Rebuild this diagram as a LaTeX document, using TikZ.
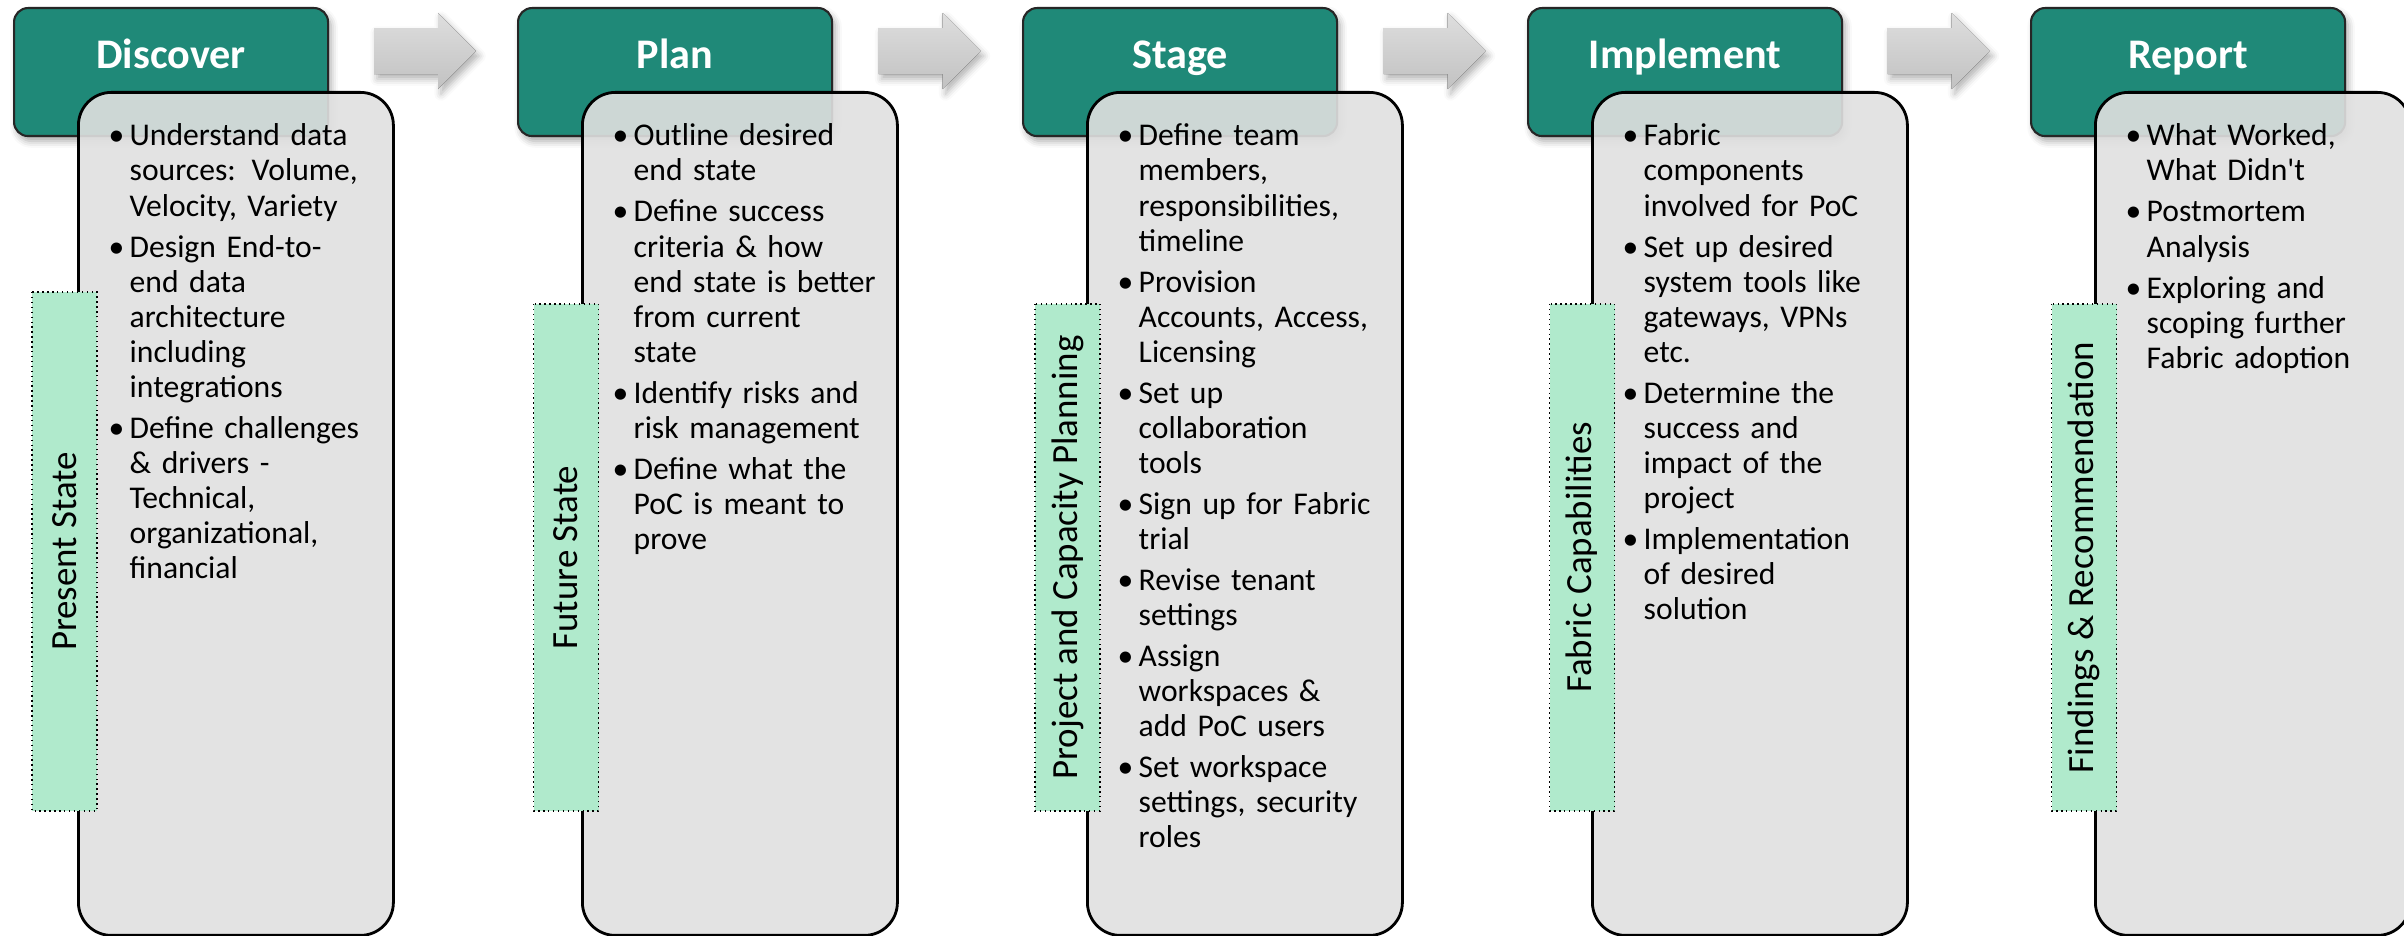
\documentclass[tikz,border=0pt]{standalone}
\usepackage{fontspec}
\setmainfont{Carlito}
\usetikzlibrary{calc,shadows.blur}

\definecolor{phaseteal}{RGB}{31,137,120}
\definecolor{cardgray}{RGB}{224,224,224}
\definecolor{tabgreen}{RGB}{176,234,204}

% one bullet point, continuation lines hang under the text
\newcommand\bitem[1]{{\let\\\newline\hangindent=0.21cm\hangafter=1\noindent\makebox[0.21cm][l]{\textbullet}#1\par}\vspace{0.06cm}}

\begin{document}
\begin{tikzpicture}[
  phase/.style={draw=black!85, line width=0.6pt, fill=phaseteal, rounded corners=0.14cm,
    minimum width=3.14cm, inner sep=0pt, text height=0.6cm, text depth=0.68cm,
    text=white, font=\fontsize{12}{14}\selectfont\bfseries, anchor=north west,
    blur shadow={shadow xshift=0.03cm, shadow yshift=-0.05cm, shadow opacity=35}},
  card/.style={draw=black, line width=0.8pt, fill=cardgray, fill opacity=0.9,
    rounded corners=0.33cm, minimum width=3.15cm, minimum height=8.43cm, anchor=north west},
  points/.style={anchor=base west, text width=2.75cm, align=left, inner sep=0pt,
    font=\fontsize{9}{9.96}\selectfont},
  tab/.style={draw=black, densely dotted, line width=0.4pt, fill=tabgreen, rotate=90,
    minimum width=5.07cm, minimum height=0.65cm, inner sep=0pt, font=\fontsize{10.5}{12}\selectfont},
  blockarrow/.style={top color=black!13, bottom color=black!24,
    blur shadow={shadow xshift=0.03cm, shadow yshift=-0.05cm, shadow opacity=30}}
]
\clip (0,0) rectangle (24.04,-9.36);

% phase headers
\node[phase] (discover) at (0.13,-0.07) {Discover};
\node[phase] (plan) at (5.17,-0.07) {Plan};
\node[phase] (stage) at (10.22,-0.07) {Stage};
\node[phase] (implement) at (15.27,-0.07) {Implement};
\node[phase] (report) at (20.30,-0.07) {Report};

% block arrows between the headers
\fill[blockarrow, shift={($(discover.east)!0.5!(plan.west)+(0.02,0.21)$)}] (-0.51,0.23) -- (0.13,0.23) -- (0.13,0.38) -- (0.51,0) -- (0.13,-0.38) -- (0.13,-0.23) -- (-0.51,-0.23) -- cycle;
\fill[blockarrow, shift={($(plan.east)!0.5!(stage.west)+(0.02,0.21)$)}] (-0.51,0.23) -- (0.13,0.23) -- (0.13,0.38) -- (0.51,0) -- (0.13,-0.38) -- (0.13,-0.23) -- (-0.51,-0.23) -- cycle;
\fill[blockarrow, shift={($(stage.east)!0.5!(implement.west)+(0.02,0.21)$)}] (-0.51,0.23) -- (0.13,0.23) -- (0.13,0.38) -- (0.51,0) -- (0.13,-0.38) -- (0.13,-0.23) -- (-0.51,-0.23) -- cycle;
\fill[blockarrow, shift={($(implement.east)!0.5!(report.west)+(0.02,0.21)$)}] (-0.51,0.23) -- (0.13,0.23) -- (0.13,0.38) -- (0.51,0) -- (0.13,-0.38) -- (0.13,-0.23) -- (-0.51,-0.23) -- cycle;

% cards under each header
\node[card] (discover-card) at ($(discover.north west)+(0.64,-0.84)$) {};
\node[card] (plan-card) at ($(plan.north west)+(0.64,-0.84)$) {};
\node[card] (stage-card) at ($(stage.north west)+(0.64,-0.84)$) {};
\node[card] (implement-card) at ($(implement.north west)+(0.64,-0.84)$) {};
\node[card] (report-card) at ($(report.north west)+(0.64,-0.84)$) {};

% bullet points
\node[points] (discover-points) at ($(discover-card.north west)+(0.31,-0.55)$) {%
  \bitem{Understand data\\ sources: Volume,\\ Velocity, Variety}
  \bitem{Design End-to-\\ end data\\ architecture\\ including\\ integrations}
  \bitem{Define challenges\\ \& drivers -\\ Technical,\\ organizational,\\ financial}};
\node[points] (plan-points) at ($(plan-card.north west)+(0.31,-0.55)$) {%
  \bitem{Outline desired\\ end state}
  \bitem{Define success\\ criteria \& how\\ end state is better\\ from current\\ state}
  \bitem{Identify risks and\\ risk management}
  \bitem{Define what the\\ PoC is meant to\\ prove}};
\node[points] (stage-points) at ($(stage-card.north west)+(0.31,-0.55)$) {%
  \bitem{Define team\\ members,\\ responsibilities,\\ timeline}
  \bitem{Provision\\ Accounts, Access,\\ Licensing}
  \bitem{Set up\\ collaboration\\ tools}
  \bitem{Sign up for Fabric\\ trial}
  \bitem{Revise tenant\\ settings}
  \bitem{Assign\\ workspaces \&\\ add PoC users}
  \bitem{Set workspace\\ settings, security\\ roles}};
\node[points] (implement-points) at ($(implement-card.north west)+(0.31,-0.55)$) {%
  \bitem{Fabric\\ components\\ involved for PoC}
  \bitem{Set up desired\\ system tools like\\ gateways, VPNs\\ etc.}
  \bitem{Determine the\\ success and\\ impact of the\\ project}
  \bitem{Implementation\\ of desired\\ solution}};
\node[points] (report-points) at ($(report-card.north west)+(0.31,-0.55)$) {%
  \bitem{What Worked,\\ What Didn\textquotesingle t}
  \bitem{Postmortem\\ Analysis}
  \bitem{Exploring and\\ scoping further\\ Fabric adoption}};

% side tabs
\node[tab, minimum width=5.19cm] (present) at (0.645,-5.515) {Present State};
\node[tab] (future) at (5.66,-5.575) {Future State};
\node[tab] (capacity) at (10.675,-5.575) {Project and Capacity Planning};
\node[tab] (capabilities) at (15.82,-5.575) {Fabric Capabilities};
\node[tab] (findings) at (20.84,-5.575) {Findings \& Recommendation};
\end{tikzpicture}
\end{document}
